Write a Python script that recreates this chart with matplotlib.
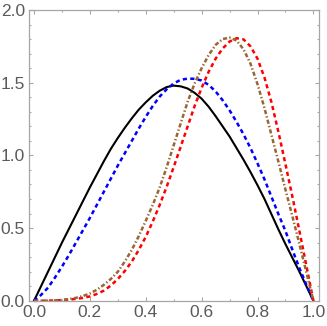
import matplotlib.pyplot as plt
from matplotlib.ticker import MultipleLocator

plt.rcParams['font.family'] = ['Liberation Sans', 'DejaVu Sans']
plt.rcParams['lines.scale_dashes'] = False

# values, x in steps of 0.025
x_vals = [0.000, 0.025, 0.050, 0.075, 0.100, 0.125, 0.150, 0.175, 0.200, 0.225,
          0.250, 0.275, 0.300, 0.325, 0.350, 0.375, 0.400, 0.425, 0.450, 0.475,
          0.500, 0.525, 0.550, 0.575, 0.600, 0.625, 0.650, 0.675, 0.700, 0.725,
          0.750, 0.775, 0.800, 0.825, 0.850, 0.875, 0.900, 0.925, 0.950, 0.975,
          1.000]

black_y = [0.00, 0.10, 0.20, 0.30, 0.40, 0.495, 0.59, 0.685, 0.78, 0.87,
           0.96, 1.045, 1.12, 1.19, 1.255, 1.315, 1.365, 1.41, 1.445, 1.47,
           1.48, 1.475, 1.46, 1.43, 1.39, 1.335, 1.27, 1.20, 1.13, 1.05,
           0.97, 0.885, 0.795, 0.70, 0.595, 0.49, 0.39, 0.295, 0.20, 0.10,
           0.00]

blue_y = [0.00, 0.04, 0.09, 0.16, 0.235, 0.315, 0.40, 0.485, 0.57, 0.66,
          0.75, 0.84, 0.93, 1.015, 1.10, 1.185, 1.265, 1.34, 1.405, 1.455,
          1.495, 1.52, 1.528, 1.527, 1.515, 1.485, 1.44, 1.38, 1.31, 1.23,
          1.145, 1.05, 0.945, 0.835, 0.715, 0.595, 0.48, 0.35, 0.225, 0.11,
          0.00]

red_y = [0.000, 0.000, 0.001, 0.002, 0.005, 0.008, 0.013, 0.020, 0.030, 0.047,
         0.070, 0.105, 0.150, 0.205, 0.270, 0.350, 0.440, 0.545, 0.660, 0.785,
         0.920, 1.060, 1.200, 1.340, 1.465, 1.575, 1.665, 1.735, 1.783, 1.806,
         1.798, 1.750, 1.665, 1.535, 1.365, 1.160, 0.940, 0.715, 0.480, 0.240,
         0.000]

brown_y = [0.000, 0.000, 0.001, 0.003, 0.006, 0.012, 0.020, 0.033, 0.050, 0.076,
           0.110, 0.150, 0.200, 0.270, 0.350, 0.445, 0.550, 0.660, 0.780, 0.920,
           1.070, 1.220, 1.370, 1.495, 1.600, 1.690, 1.760, 1.800, 1.810, 1.790,
           1.730, 1.630, 1.490, 1.325, 1.140, 0.955, 0.765, 0.580, 0.390, 0.195,
           0.000]

frame_col = '#a6a6a6'
label_col = '#5a5a5a'

fig = plt.figure(figsize=(3.27, 3.26), dpi=100)
ax = fig.add_axes([0.0878, 0.0773, 0.8868, 0.892])

ax.plot(x_vals, black_y, color='black', lw=1.5, clip_on=False)
ax.plot(x_vals, blue_y, color='#0000ff', lw=1.8, dashes=(3.0, 2.4), clip_on=False)
ax.plot(x_vals, red_y, color='#ff0000', lw=1.8, dashes=(3.0, 2.4), clip_on=False)
ax.plot(x_vals, brown_y, color='#996633', lw=1.8, dashes=(3.0, 1.6, 1.0, 1.6), clip_on=False)

ax.set_xlim(-0.019, 1.019)
ax.set_ylim(0, 2)

ax.xaxis.set_major_locator(MultipleLocator(0.2))
ax.xaxis.set_minor_locator(MultipleLocator(0.1))
ax.yaxis.set_major_locator(MultipleLocator(0.5))
ax.yaxis.set_minor_locator(MultipleLocator(0.1))
ax.xaxis.set_major_formatter(lambda v, p: '%.1f' % v)
ax.yaxis.set_major_formatter(lambda v, p: '%.1f' % v)

for s in ax.spines.values():
    s.set_color(frame_col)
    s.set_linewidth(0.9)

ax.tick_params(which='both', direction='in', top=True, right=True,
               color=frame_col, width=0.8, labelcolor=label_col, labelsize=12.5)
ax.tick_params(which='major', length=2.9)
ax.tick_params(which='minor', length=1.6)
ax.tick_params(axis='x', pad=3)
ax.tick_params(axis='y', pad=2.7)

fig.savefig('out.png', dpi=100)
